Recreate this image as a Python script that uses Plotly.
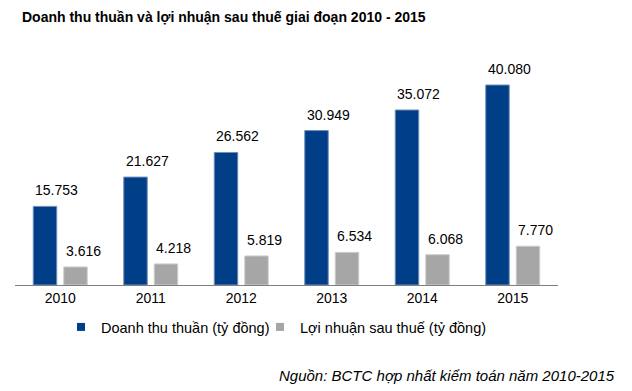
import plotly.graph_objects as go

years = ["2010", "2011", "2012", "2013", "2014", "2015"]
revenue = [15753, 21627, 26562, 30949, 35072, 40080]
profit = [3616, 4218, 5819, 6534, 6068, 7770]
name_rev = "Doanh thu thuần (tỷ đồng)"
name_pro = "Lợi nhuận sau thuế (tỷ đồng)"
title = "Doanh thu thuần và lợi nhuận sau thuế giai đoạn 2010 - 2015"
source = "Nguồn: BCTC hợp nhất kiểm toán năm 2010-2015"

BLUE = "#003f87"
GRAY = "#a6a6a6"
FONT = "Liberation Sans, Arial, sans-serif"


def fmt(v):
    return f"{v:,}".replace(",", ".")


fig = go.Figure()
fig.add_bar(x=years, y=revenue, marker=dict(color=BLUE, line=dict(color="#6f8fb8", width=1)),
            showlegend=False, hoverinfo="skip")
fig.add_bar(x=years, y=profit, marker=dict(color=GRAY, line=dict(color="#cccccc", width=1)),
            showlegend=False, hoverinfo="skip")
# legend entries with square markers
fig.add_scatter(x=[None], y=[None], mode="markers", name=name_rev, legend="legend",
                marker=dict(symbol="square", size=8, color=BLUE))
fig.add_scatter(x=[None], y=[None], mode="markers", name=name_pro, legend="legend2",
                marker=dict(symbol="square", size=8, color=GRAY))

slot = 0.337  # distance between bar centers in category units
bw = 0.26
annotations = []
for i, (r, p) in enumerate(zip(revenue, profit)):
    for val, off in ((r, -slot / 2), (p, slot / 2)):
        annotations.append(dict(x=i + off - bw / 2, y=val, xref="x", yref="y",
                                text=fmt(val), showarrow=False, xanchor="left",
                                yanchor="bottom", yshift=6,
                                font=dict(size=14, color="#000000", family=FONT)))

annotations.append(dict(x=20 / 632, y=1 - 17 / 391, xref="paper", yref="paper",
                        text="<b>" + title + "</b>", showarrow=False,
                        xanchor="left", yanchor="middle",
                        font=dict(size=14, color="#000000", family=FONT)))
annotations.append(dict(x=617 / 632, y=1 - 375 / 391, xref="paper", yref="paper",
                        text="<i>" + source + "</i>", showarrow=False,
                        xanchor="right", yanchor="middle",
                        font=dict(size=15, color="#000000", family=FONT)))

# convert paper coords relative to plot area
L, R, T, B = 15, 74, 60, 106
W, H = 632, 391
pw, ph = W - L - R, H - T - B
for a in annotations[-2:]:
    px = a["x"] * W
    py = (1 - a["y"]) * H
    a["x"] = (px - L) / pw
    a["y"] = 1 - (py - T) / ph

leg_y = 1 - (327 - T) / ph
leg_common = dict(orientation="h", yanchor="middle", y=leg_y, xanchor="left",
                  font=dict(size=14.5, family=FONT), bgcolor="rgba(0,0,0,0)")

fig.update_layout(
    width=W, height=H,
    margin=dict(l=L, r=R, t=T, b=B, autoexpand=False),
    paper_bgcolor="white", plot_bgcolor="white",
    barmode="group", bargap=0.326, bargroupgap=0.23,
    font=dict(family=FONT, size=14, color="#000000"),
    annotations=annotations,
    showlegend=True,
    legend=dict(x=(61 - L) / pw, **leg_common),
    legend2=dict(x=(260 - L) / pw, **leg_common),
    xaxis=dict(showline=True, linecolor="#808080", linewidth=1, ticks="",
               tickfont=dict(size=14, family=FONT), showgrid=False),
    yaxis=dict(range=[0, 45090], visible=False, showgrid=False),
)

fig.write_html("out.html", config={"displayModeBar": False},
               post_script="document.body.style.margin='0px';")
